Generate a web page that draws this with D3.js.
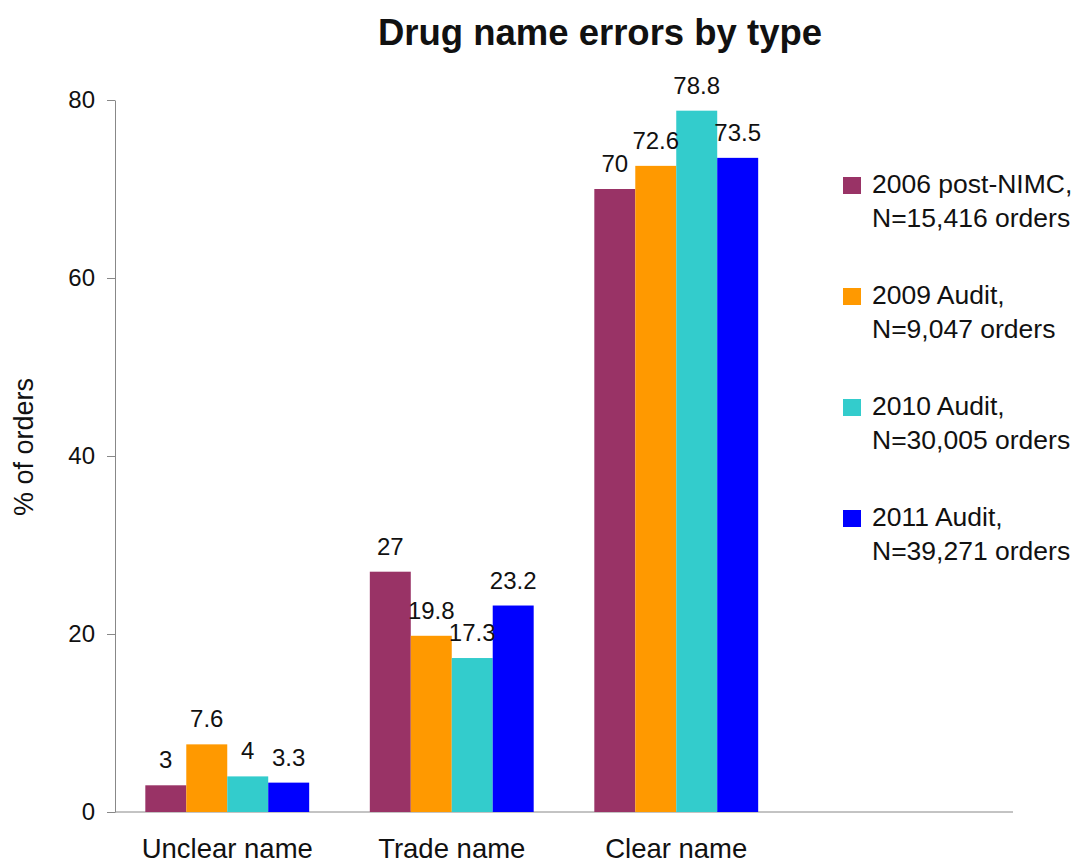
<!DOCTYPE html>
<html>
<head>
<meta charset="utf-8">
<title>Drug name errors by type</title>
<script src="https://d3js.org/d3.v7.min.js"></script>
<style>
body { margin: 0; background: #fff; }
svg text { font-family: "Liberation Sans", Arial, sans-serif; fill: #111; }
.axis path, .axis line { stroke: #888; }
</style>
</head>
<body>
<div id="chart"></div>
<script>
// data
var categories = ["Unclear name", "Trade name", "Clear name"];
var seriesNames = ["2006 post-NIMC", "2009 Audit", "2010 Audit", "2011 Audit"];
var seriesNotes = ["N=15,416 orders", "N=9,047 orders", "N=30,005 orders", "N=39,271 orders"];
var values2006 = [3, 27, 70];
var values2009 = [7.6, 19.8, 72.6];
var values2010 = [4, 17.3, 78.8];
var values2011 = [3.3, 23.2, 73.5];
var yTicks = [0, 20, 40, 60, 80];
var colors = ["#993366", "#ff9900", "#33cccc", "#0000ff"];

var allValues = [values2006, values2009, values2010, values2011];

var margin = {top: 100, left: 115},
    width = 898,
    height = 712;

var svg = d3.select("#chart").append("svg")
    .attr("width", 1079)
    .attr("height", 865);

svg.append("text")
    .attr("x", 600)
    .attr("y", 45)
    .attr("text-anchor", "middle")
    .style("font-size", "36.5px")
    .style("font-weight", "bold")
    .text("Drug name errors by type");

var g = svg.append("g")
    .attr("transform", "translate(" + margin.left + "," + margin.top + ")");

// outer padding pushed to the right leaves an empty slot where the legend sits
var x0 = d3.scaleBand().domain(categories).range([0, width]).paddingOuter(0.5).align(0);
var x1 = d3.scaleBand().domain(d3.range(seriesNames.length)).range([0, x0.bandwidth()]).paddingOuter(0.74);
var y = d3.scaleLinear().domain([0, 80]).range([height, 0]);

// y axis
var yAxis = g.append("g")
    .attr("class", "axis")
    .call(d3.axisLeft(y).tickValues(yTicks).tickSize(8).tickSizeOuter(0).tickPadding(12));
yAxis.selectAll("text").style("font-size", "24px");

// baseline across the whole plot
g.append("line")
    .attr("class", "axis")
    .attr("x1", 0).attr("x2", width)
    .attr("y1", y(0)).attr("y2", y(0))
    .style("stroke", "#888");

// category labels
var xAxis = g.append("g")
    .attr("transform", "translate(0," + height + ")")
    .call(d3.axisBottom(x0).tickSize(0).tickPadding(26));
xAxis.select(".domain").remove();
xAxis.selectAll("text").style("font-size", "27.5px");

svg.append("text")
    .attr("transform", "translate(33,447) rotate(-90)")
    .attr("text-anchor", "middle")
    .style("font-size", "27px")
    .text("% of orders");

// bars
var groups = g.selectAll(".cat")
    .data(categories)
    .enter().append("g")
    .attr("transform", function(d) { return "translate(" + x0(d) + ",0)"; });

groups.selectAll("rect")
    .data(function(d, i) { return allValues.map(function(s, k) { return {k: k, v: s[i]}; }); })
    .enter().append("rect")
    .attr("x", function(d) { return x1(d.k); })
    .attr("width", x1.bandwidth())
    .attr("y", function(d) { return y(d.v); })
    .attr("height", function(d) { return y(0) - y(d.v); })
    .attr("fill", function(d) { return colors[d.k]; });

groups.selectAll(".val")
    .data(function(d, i) { return allValues.map(function(s, k) { return {k: k, v: s[i]}; }); })
    .enter().append("text")
    .attr("x", function(d) { return x1(d.k) + x1.bandwidth() / 2; })
    .attr("y", function(d) { return y(d.v) - 17; })
    .attr("text-anchor", "middle")
    .style("font-size", "24px")
    .text(function(d) { return d.v; });

// legend
var legend = svg.selectAll(".legend")
    .data(seriesNames)
    .enter().append("g")
    .attr("transform", function(d, i) { return "translate(843," + (177 + i * 111) + ")"; });

legend.append("rect")
    .attr("width", 18).attr("height", 17)
    .attr("fill", function(d, i) { return colors[i]; });

legend.append("text")
    .attr("x", 29).attr("y", 16)
    .style("font-size", "26.5px")
    .text(function(d) { return d + ","; });

legend.append("text")
    .attr("x", 29).attr("y", 50)
    .style("font-size", "26.5px")
    .text(function(d, i) { return seriesNotes[i]; });
</script>
</body>
</html>
